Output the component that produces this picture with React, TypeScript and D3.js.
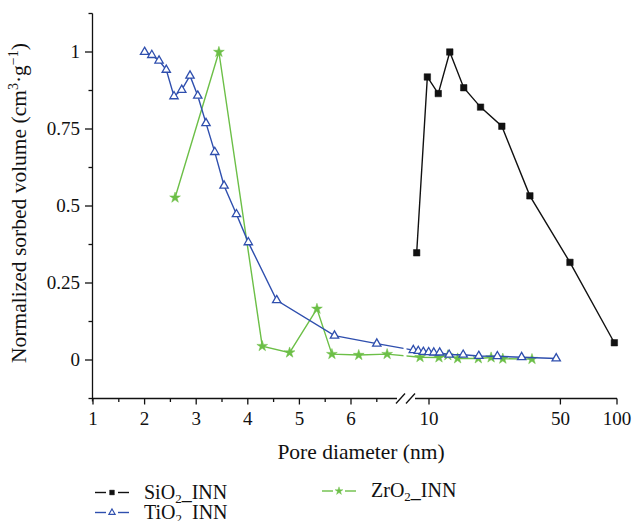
import React, { useEffect, useRef } from "react";
import * as d3 from "d3";

// pore diameter (nm) / normalized sorbed volume
const sio2X = [8.6, 9.8, 11.2, 12.9, 15.3, 18.8, 24.4, 34.4, 56.2, 96.8];
const sio2Y = [0.348, 0.919, 0.865, 1.0, 0.884, 0.821, 0.759, 0.533, 0.317, 0.056];

const tio2X = [
  2.0, 2.14, 2.28, 2.42, 2.57, 2.72, 2.88, 3.03, 3.19, 3.36, 3.54, 3.78, 4.01, 4.56, 5.68, 6.5,
  8.25, 8.77, 9.33, 9.96, 10.6, 11.4, 12.8, 15.2, 18.4, 23.1, 31.1, 47.5,
];
const tio2Y = [
  1.0, 0.99, 0.972, 0.942, 0.856, 0.877, 0.923, 0.858, 0.769, 0.675, 0.566, 0.473, 0.382, 0.194, 0.079, 0.053,
  0.032, 0.029, 0.026, 0.025, 0.024, 0.024, 0.017, 0.017, 0.013, 0.012, 0.009, 0.005,
];

const zro2X = [2.59, 3.44, 4.28, 4.81, 5.34, 5.63, 6.15, 6.7, 8.96, 11.3, 12.6, 14.2, 18.3, 21.4, 24.7, 35.3];
const zro2Y = [0.527, 1.0, 0.045, 0.024, 0.166, 0.019, 0.016, 0.019, 0.009, 0.008, 0.015, 0.005, 0.005, 0.008, 0.004, 0.003];

const xTicksLeft = [1, 2, 3, 4, 5, 6];
const xMinorLeft = [1.5, 2.5, 3.5, 4.5, 5.5, 6.5];
const xTicksRight = [10, 50, 100];
const yTicks = [0, 0.25, 0.5, 0.75, 1];
const yMinor = [-0.125, 0.125, 0.375, 0.625, 0.875, 1.125];

const W = 633;
const H = 521;
const FONT = "Liberation Serif, DejaVu Serif, serif";
const BLACK = "#111111";
const BLUE = "#2f4fae";
const GREEN = "#6cbf47";

const App = () => {
  const ref = useRef<SVGSVGElement | null>(null);

  useEffect(() => {
    const svg = d3.select(ref.current);
    svg.selectAll("*").remove();

    // broken x axis: linear part 1..~7, log part ~7.7..100
    const xLin = d3.scaleLinear().domain([1, 6]).range([93, 351]);
    const xLog = d3.scaleLog().domain([10, 100]).range([429, 617]);
    const brk = 7.3;
    const x = (v: number) => (v <= brk ? xLin(v) : xLog(v));
    const y = d3.scaleLinear().domain([-0.125, 1.125]).range([398.5, 13.5]);
    const gapL = 403.5;
    const gapR = 406.5;

    const defs = svg.append("defs");
    const clip = defs.append("clipPath").attr("id", "brk");
    clip.append("rect").attr("x", 0).attr("y", 0).attr("width", gapL).attr("height", H);
    clip.append("rect").attr("x", gapR).attr("y", 0).attr("width", W - gapR).attr("height", H);

    const ax = svg.append("g").attr("stroke", BLACK).attr("stroke-width", 1.3);
    // y axis
    ax.append("line").attr("x1", 92.5).attr("x2", 92.5).attr("y1", y(1.125)).attr("y2", y(-0.125) + 3);
    yTicks.forEach((t) => {
      ax.append("line").attr("x1", 85).attr("x2", 92.5).attr("y1", y(t)).attr("y2", y(t));
    });
    yMinor.forEach((t) => {
      ax.append("line").attr("x1", 88.5).attr("x2", 92.5).attr("y1", y(t)).attr("y2", y(t));
    });
    // x axis with break
    const ya = y(-0.125);
    ax.append("line").attr("x1", 92.5).attr("x2", 397).attr("y1", ya).attr("y2", ya);
    ax.append("line").attr("x1", 415).attr("x2", 617).attr("y1", ya).attr("y2", ya);
    ax.append("line").attr("x1", 396).attr("x2", 405).attr("y1", ya + 5).attr("y2", ya - 5);
    ax.append("line").attr("x1", 406).attr("x2", 415).attr("y1", ya + 5).attr("y2", ya - 5);
    xTicksLeft.forEach((t) => {
      ax.append("line").attr("x1", x(t)).attr("x2", x(t)).attr("y1", ya).attr("y2", ya + 6);
    });
    xMinorLeft.forEach((t) => {
      ax.append("line").attr("x1", x(t)).attr("x2", x(t)).attr("y1", ya).attr("y2", ya + 3.5);
    });
    xTicksRight.forEach((t) => {
      ax.append("line").attr("x1", x(t)).attr("x2", x(t)).attr("y1", ya).attr("y2", ya + 6);
    });

    const lab = svg.append("g").style("font-family", FONT).attr("font-size", 19).attr("fill", BLACK);
    yTicks.forEach((t) => {
      lab.append("text").attr("x", 80).attr("y", y(t) + 6).attr("text-anchor", "end").text(String(t));
    });
    [...xTicksLeft, ...xTicksRight].forEach((t) => {
      lab.append("text").attr("x", x(t)).attr("y", ya + 26).attr("text-anchor", "middle").text(String(t));
    });

    svg
      .append("text")
      .attr("x", 361)
      .attr("y", 459)
      .attr("text-anchor", "middle")
      .style("font-family", FONT)
      .attr("font-size", 21.5)
      .attr("fill", BLACK)
      .text("Pore diameter (nm)");

    const yl = svg
      .append("text")
      .attr("transform", `translate(26,203) rotate(-90)`)
      .attr("text-anchor", "middle")
      .style("font-family", FONT)
      .attr("font-size", 21.5)
      .attr("fill", BLACK);
    yl.append("tspan").text("Normalized sorbed volume (cm");
    yl.append("tspan").attr("dy", -8).attr("font-size", 14).text("3");
    yl.append("tspan").attr("dy", 8).text("·g");
    yl.append("tspan").attr("dy", -8).attr("font-size", 14).text("−1");
    yl.append("tspan").attr("dy", 8).text(")");

    const series = [
      { xs: sio2X, ys: sio2Y, color: BLACK, sym: d3.symbolSquare, size: 42, fill: BLACK },
      { xs: tio2X, ys: tio2Y, color: BLUE, sym: d3.symbolTriangle, size: 30, fill: "white" },
      { xs: zro2X, ys: zro2Y, color: GREEN, sym: d3.symbolStar, size: 36, fill: GREEN },
    ];

    const line = d3
      .line<[number, number]>()
      .x((d) => x(d[0]))
      .y((d) => y(d[1]));

    // green first, then blue, SiO2 on top
    [series[2], series[1], series[0]].forEach((s) => {
      const pts = s.xs.map((v, i) => [v, s.ys[i]] as [number, number]);
      const g = svg.append("g").attr("clip-path", "url(#brk)");
      g.append("path")
        .attr("d", line(pts))
        .attr("fill", "none")
        .attr("stroke", s.color)
        .attr("stroke-width", 1.4);
      g.selectAll("path.m")
        .data(pts)
        .enter()
        .append("path")
        .attr("class", "m")
        .attr("transform", (d) => `translate(${x(d[0])},${y(d[1])})`)
        .attr("d", d3.symbol().type(s.sym).size(s.size)())
        .attr("fill", s.fill)
        .attr("stroke", s.color)
        .attr("stroke-width", s.fill === "white" ? 1.3 : 0.5);
    });

    // legend
    const legend = [
      { name: "SiO", lx: 95, ly: 492.5, s: series[0] },
      { name: "TiO", lx: 95, ly: 512.5, s: series[1] },
      { name: "ZrO", lx: 322, ly: 491, s: series[2] },
    ];
    legend.forEach((l) => {
      const g = svg.append("g");
      g.append("line").attr("x1", l.lx).attr("x2", l.lx + 11).attr("y1", l.ly).attr("y2", l.ly).attr("stroke", l.s.color).attr("stroke-width", 1.4);
      g.append("line").attr("x1", l.lx + 23).attr("x2", l.lx + 34).attr("y1", l.ly).attr("y2", l.ly).attr("stroke", l.s.color).attr("stroke-width", 1.4);
      g.append("path")
        .attr("transform", `translate(${l.lx + 17},${l.ly})`)
        .attr("d", d3.symbol().type(l.s.sym).size(l.s.size * 0.55)())
        .attr("fill", l.s.fill)
        .attr("stroke", l.s.color)
        .attr("stroke-width", l.s.fill === "white" ? 1.2 : 0.4);
      const t = g
        .append("text")
        .attr("x", l.lx + 49)
        .attr("y", l.ly + 6)
        .style("font-family", FONT)
        .attr("font-size", 20)
        .attr("fill", BLACK);
      t.append("tspan").text(l.name);
      t.append("tspan").attr("dy", 4).attr("font-size", 13).text("2");
      t.append("tspan").attr("dy", -4).text("_INN");
    });
  }, []);

  return (
    <div style={{ position: "fixed", left: 0, top: 0 }}>
      <svg ref={ref} width={W} height={H} style={{ display: "block", background: "white" }} />
    </div>
  );
};

export default App;
